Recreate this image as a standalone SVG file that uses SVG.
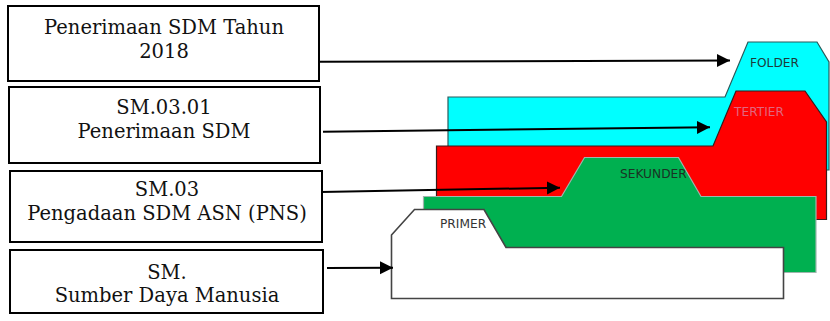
<svg xmlns="http://www.w3.org/2000/svg" width="830" height="321" viewBox="0 0 830 321">
  <style>
    .box { fill: #ffffff; stroke: #000000; stroke-width: 2; }
    .lbl { font-family: "DejaVu Serif", "Liberation Serif", serif; font-size: 19.5px; fill: #111111; text-anchor: middle; }
    .tab { font-family: "DejaVu Sans", Verdana, sans-serif; font-size: 12.2px; }
    .conn { fill: none; stroke: #000000; stroke-width: 2; marker-end: url(#head); }
  </style>
  <defs>
    <marker id="head" markerUnits="userSpaceOnUse" markerWidth="14" markerHeight="14" refX="13" refY="6.5" orient="auto">
      <path d="M0,0 L13,6.5 L0,13 Z" fill="#000000"/>
    </marker>
  </defs>
  <rect width="830" height="321" fill="#ffffff"/>

  <!-- folder stack, back to front -->
  <g id="folder">
    <path d="M448,97 L725,97 L748,42 L817,42 L829,62 L829,170 L448,170 Z" fill="#00ffff" stroke="#2a5a5a" stroke-width="1.2"/>
    <text class="tab" x="750" y="66.5" fill="#1d3b3b">FOLDER</text>
  </g>
  <g id="tertier">
    <path d="M436.5,146 L713,146 L736,91 L805,91 L826.5,122 L826.5,219.5 L436.5,219.5 Z" fill="#ff0000" stroke="#3a1a1a" stroke-width="1.2"/>
    <text class="tab" x="734" y="116" fill="#e2667f">TERTIER</text>
  </g>
  <g id="sekunder">
    <path d="M423.5,196.5 L561.5,196.5 L584.5,157.5 L678.5,157.5 L701,196.5 L816,196.5 L816,272.5 L423.5,272.5 Z" fill="#00b050" stroke="#9fb5ad" stroke-width="1.2"/>
    <text class="tab" x="620" y="177.7" fill="#1a3324">SEKUNDER</text>
  </g>
  <g id="primer">
    <path d="M391.5,235 L414.5,209.5 L484,209.5 L506,247.5 L783.5,247.5 L783.5,298.5 L391.5,298.5 Z" fill="#ffffff" stroke="#444444" stroke-width="1.6"/>
    <text class="tab" x="440" y="227.7" fill="#333333">PRIMER</text>
  </g>

  <!-- classification boxes -->
  <g id="box-tahun">
    <rect class="box" x="8" y="6" width="311" height="75"/>
    <text class="lbl" x="164" y="34">Penerimaan SDM Tahun</text>
    <text class="lbl" x="164" y="57.5">2018</text>
  </g>
  <g id="box-sm-03-01">
    <rect class="box" x="9" y="87" width="311" height="76"/>
    <text class="lbl" x="164" y="114">SM.03.01</text>
    <text class="lbl" x="164" y="138">Penerimaan SDM</text>
  </g>
  <g id="box-sm-03">
    <rect class="box" x="10" y="171" width="312" height="71"/>
    <text class="lbl" x="167" y="196">SM.03</text>
    <text class="lbl" x="167" y="220">Pengadaan SDM ASN (PNS)</text>
  </g>
  <g id="box-sm">
    <rect class="box" x="10" y="250" width="313" height="63"/>
    <text class="lbl" x="167" y="279">SM.</text>
    <text class="lbl" x="167" y="302">Sumber Daya Manusia</text>
  </g>

  <!-- connectors -->
  <g id="connectors">
    <path class="conn" d="M320,61.7 L730,60.5"/>
    <path class="conn" d="M323,131.7 L710,127.3"/>
    <path class="conn" d="M321,192 L560,187.7"/>
    <path class="conn" d="M327,268 L393,267.7"/>
  </g>
</svg>
